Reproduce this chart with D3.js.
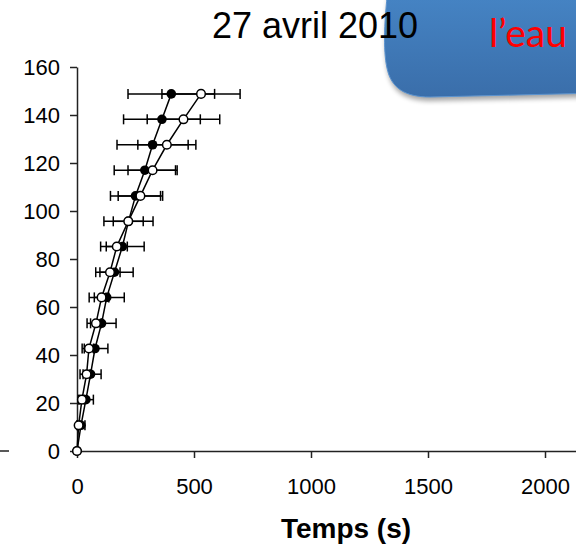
<!DOCTYPE html>
<html>
<head>
<meta charset="utf-8">
<script src="https://cdn.jsdelivr.net/npm/d3@7"></script>
<style>
  body { margin: 0; background: #fff; }
  svg { display: block; }
</style>
</head>
<body>
<div id="chart"></div>
<script>
// y positions (shared by both series)
var levels = [0, 10.7, 21.4, 32, 42.7, 53.2, 64, 74.5, 85.2, 95.7, 106.3, 117, 127.6, 138.2, 148.8]

// filled series: time (s) and error
var filledX = [0, 17, 38, 58, 77, 105, 127, 160, 194, 220, 250, 290, 323, 363, 403]
var filledErr = [0, 17, 32, 45, 55, 62, 75, 80, 93, 105, 107, 131, 152, 164, 185]

// open series
var openX = [0, 7, 21, 41, 51, 81, 105, 141, 170, 219, 271, 323, 384, 455, 530]
var openErr = [0, 5, 10, 15, 20, 23, 31, 43, 45, 64, 95, 105, 124, 155, 167]

var xTicks = [0, 500, 1000, 1500, 2000]
var yTicks = [0, 20, 40, 60, 80, 100, 120, 140, 160]

var title = "27 avril 2010"
var xLabel = "Temps (s)"
var bubbleText = "l\u2019eau"

var W = 576, H = 546

var svg = d3.select("#chart").append("svg")
  .attr("width", W)
  .attr("height", H)

var x = d3.scaleLinear().domain([0, 2500]).range([77, 662])
var y = d3.scaleLinear().domain([0, 160]).range([451, 67])

var font = "'Liberation Sans', Arial, sans-serif"

// blue rounded shape (top right)
var defs = svg.append("defs")
var grad = defs.append("linearGradient")
  .attr("id", "blue")
  .attr("x1", 0).attr("y1", 0).attr("x2", 0).attr("y2", 1)
grad.append("stop").attr("offset", "0%").attr("stop-color", "#4787c8")
grad.append("stop").attr("offset", "100%").attr("stop-color", "#3a6eaa")

var blur = defs.append("filter").attr("id", "shadow")
  .attr("x", "-20%").attr("y", "-20%").attr("width", "140%").attr("height", "140%")
blur.append("feGaussianBlur").attr("stdDeviation", 2.5)

var shapePath = "M 389,-20 C 384,20 383,50 387,68 C 391,88 405,97 430,97 L 600,93 L 600,-20 Z"

svg.append("path")
  .attr("d", shapePath)
  .attr("transform", "translate(1,4)")
  .attr("fill", "#000")
  .attr("opacity", 0.35)
  .attr("filter", "url(#shadow)")

svg.append("path")
  .attr("d", shapePath)
  .attr("fill", "url(#blue)")
  .attr("stroke", "#5b93cf")
  .attr("stroke-width", 1)

svg.append("text")
  .attr("x", 489)
  .attr("y", 47)
  .attr("font-family", "Lato, 'Open Sans', sans-serif")
  .attr("font-size", 39)
  .attr("fill", "#ff0000")
  .text(bubbleText)

// title
svg.append("text")
  .attr("x", 315)
  .attr("y", 38)
  .attr("text-anchor", "middle")
  .attr("font-family", font)
  .attr("font-size", 36)
  .attr("fill", "#000")
  .text(title)

// axes
var xAxis = svg.append("g")
  .attr("transform", "translate(0," + y(0) + ")")
  .call(d3.axisBottom(x).tickValues(xTicks).tickFormat(d3.format("d"))
    .tickSize(7).tickSizeOuter(0).tickPadding(20))

var yAxis = svg.append("g")
  .attr("transform", "translate(" + x(0) + ",0)")
  .call(d3.axisLeft(y).tickValues(yTicks).tickSize(7).tickSizeOuter(0).tickPadding(10))

svg.selectAll(".domain, .tick line")
  .attr("stroke", "#222")
  .attr("stroke-width", 1.5)
svg.selectAll(".tick text")
  .attr("font-family", font)
  .attr("font-size", 22)
  .attr("fill", "#000")

// stray line at the left
svg.append("line")
  .attr("x1", 0).attr("x2", 9)
  .attr("y1", y(0)).attr("y2", y(0))
  .attr("stroke", "#222")
  .attr("stroke-width", 1.5)

svg.append("text")
  .attr("x", 346)
  .attr("y", 538)
  .attr("text-anchor", "middle")
  .attr("font-family", font)
  .attr("font-weight", "bold")
  .attr("font-size", 28)
  .attr("fill", "#000")
  .text(xLabel)

// series
var makeData = function (xs, errs) {
  return levels.map(function (lv, i) {
    return { t: xs[i], e: errs[i], v: lv }
  })
}
var filled = makeData(filledX, filledErr)
var open = makeData(openX, openErr)

var drawErrors = function (data) {
  var g = svg.append("g")
    .attr("stroke", "#000")
    .attr("stroke-width", 1.5)
  var eb = g.selectAll("g").data(data.filter(d => d.e > 0)).join("g")
  eb.append("line")
    .attr("x1", d => x(d.t - d.e)).attr("x2", d => x(d.t + d.e))
    .attr("y1", d => y(d.v)).attr("y2", d => y(d.v))
  eb.append("line")
    .attr("x1", d => x(d.t - d.e)).attr("x2", d => x(d.t - d.e))
    .attr("y1", d => y(d.v) - 5).attr("y2", d => y(d.v) + 5)
  eb.append("line")
    .attr("x1", d => x(d.t + d.e)).attr("x2", d => x(d.t + d.e))
    .attr("y1", d => y(d.v) - 5).attr("y2", d => y(d.v) + 5)
}

var line = d3.line().x(d => x(d.t)).y(d => y(d.v))

drawErrors(filled)
drawErrors(open)

svg.append("path").datum(filled)
  .attr("d", line).attr("fill", "none")
  .attr("stroke", "#000").attr("stroke-width", 1.5)
svg.append("path").datum(open)
  .attr("d", line).attr("fill", "none")
  .attr("stroke", "#000").attr("stroke-width", 1.5)

svg.append("g").selectAll("circle").data(filled).join("circle")
  .attr("cx", d => x(d.t)).attr("cy", d => y(d.v))
  .attr("r", 4.8)
  .attr("fill", "#000")

svg.append("g").selectAll("circle").data(open).join("circle")
  .attr("cx", d => x(d.t)).attr("cy", d => y(d.v))
  .attr("r", 4.3)
  .attr("fill", "#fff")
  .attr("stroke", "#000")
  .attr("stroke-width", 1.5)
</script>
</body>
</html>
